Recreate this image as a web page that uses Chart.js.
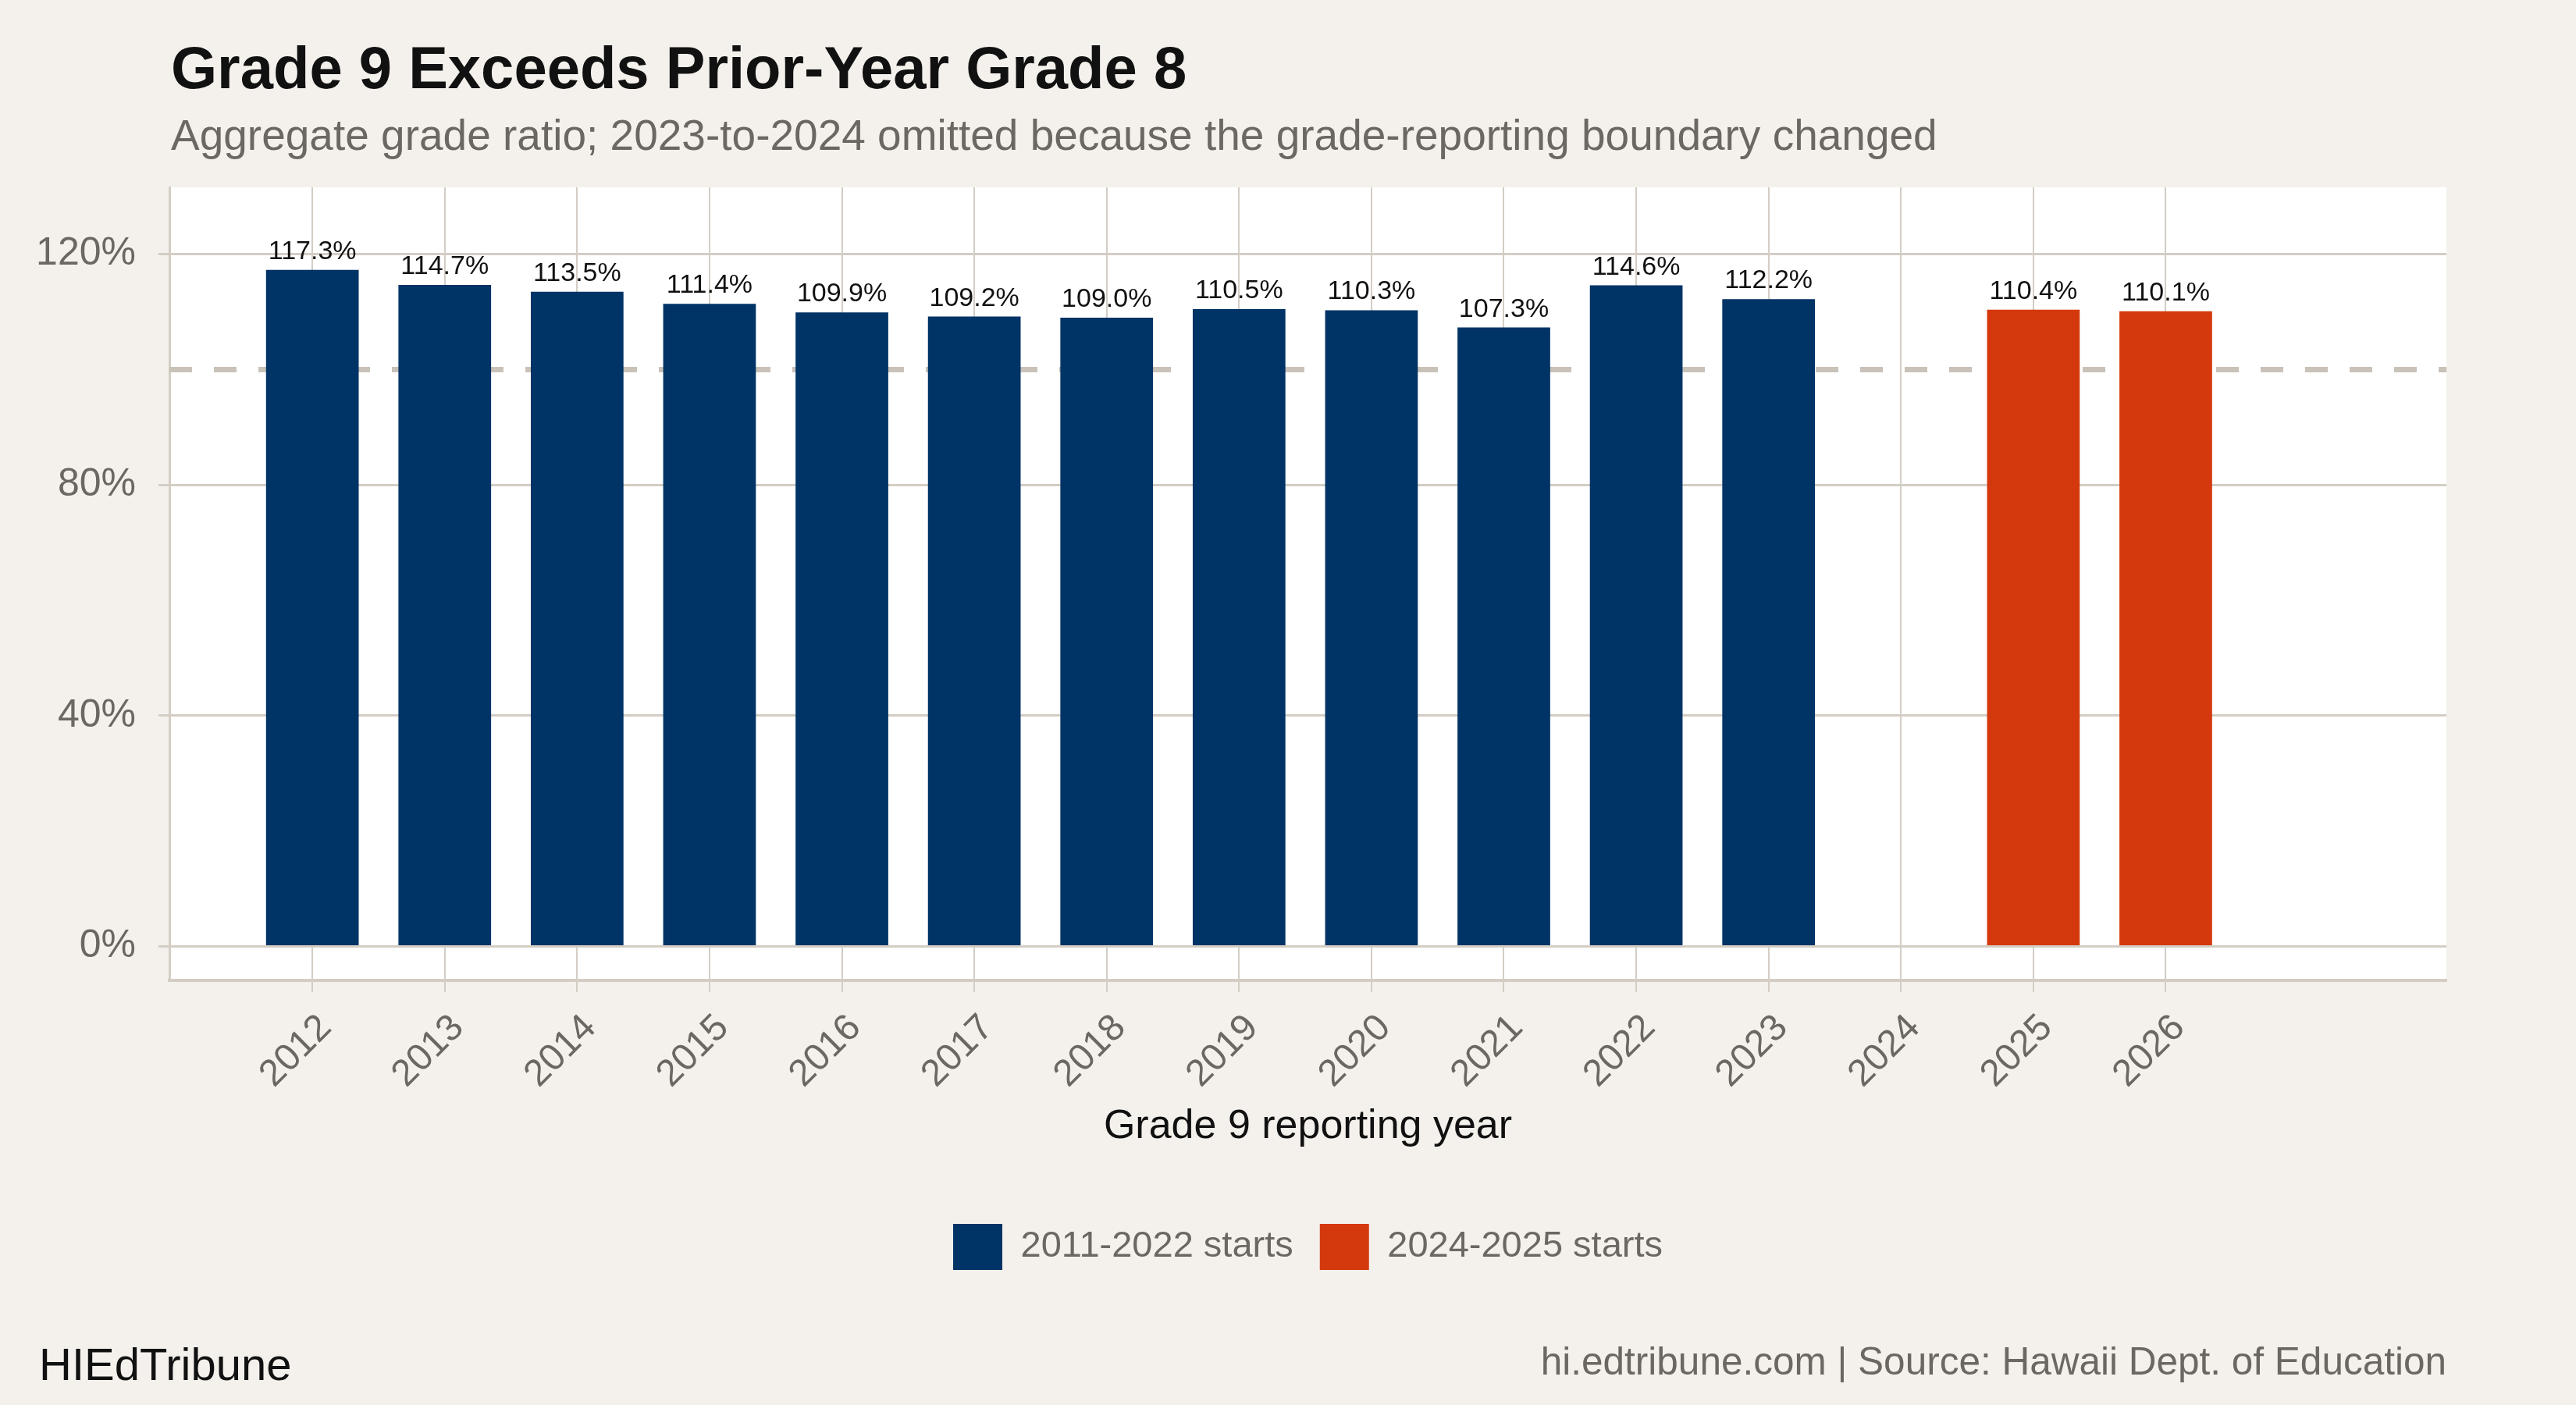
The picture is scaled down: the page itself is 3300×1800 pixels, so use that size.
<!DOCTYPE html>
<html lang="en">
<head>
    <meta charset="UTF-8">
    <title>Grade 9 Exceeds Prior-Year Grade 8</title>
    <style>
        html, body {
            margin: 0;
            padding: 0;
            background-color: #f4f1ec;
        }

        #chart {
            display: block;
            width: 3300px;
            height: 1800px;
        }
    </style>
</head>
<body>
    <canvas id="chart" width="3300" height="1800"></canvas>

    <script src="https://cdn.jsdelivr.net/npm/chart.js@4/dist/chart.umd.min.js"></script>
    <script>
        // tick labels on the x axis (2024 has no bar)
        const years = [2012, 2013, 2014, 2015, 2016, 2017, 2018, 2019, 2020, 2021, 2022, 2023, 2024, 2025, 2026];

        // 2011-2022 starts
        const oldYears = [2012, 2013, 2014, 2015, 2016, 2017, 2018, 2019, 2020, 2021, 2022, 2023];
        const oldRatios = [117.3, 114.7, 113.5, 111.4, 109.9, 109.2, 109.0, 110.5, 110.3, 107.3, 114.6, 112.2];

        // 2024-2025 starts
        const newYears = [2025, 2026];
        const newRatios = [110.4, 110.1];

        const yTicks = [0, 40, 80, 120];
        const refLine = 100;

        const FONT = '"Liberation Sans", Arial, Helvetica, sans-serif';
        const GRID = '#d3cdc4';
        const GRAY = '#6b6863';

        Chart.defaults.font.family = FONT;

        const toPoints = (xs, ys) => xs.map((x, i) => ({ x: x, y: ys[i] }));

        // page background, white panel, titles and footer
        const frame = {
            id: 'frame',
            beforeDraw(chart) {
                const { ctx, chartArea: a } = chart;
                ctx.save();
                ctx.fillStyle = '#f4f1ec';
                ctx.fillRect(0, 0, chart.width, chart.height);
                ctx.fillStyle = '#ffffff';
                ctx.fillRect(a.left, a.top, a.right - a.left, a.bottom - a.top);
                ctx.restore();
            },
            afterDraw(chart) {
                const ctx = chart.ctx;
                ctx.save();
                ctx.textBaseline = 'alphabetic';
                ctx.textAlign = 'left';
                ctx.fillStyle = '#111111';
                ctx.font = 'bold 76px ' + FONT;
                ctx.fillText('Grade 9 Exceeds Prior-Year Grade 8', 219, 113);

                ctx.fillStyle = GRAY;
                ctx.font = '55px ' + FONT;
                ctx.fillText('Aggregate grade ratio; 2023-to-2024 omitted because the grade-reporting boundary changed', 219, 192);

                ctx.fillStyle = '#111111';
                ctx.font = '58px ' + FONT;
                ctx.fillText('HIEdTribune', 50, 1768);

                ctx.fillStyle = GRAY;
                ctx.font = '49.5px ' + FONT;
                ctx.textAlign = 'right';
                ctx.fillText('hi.edtribune.com | Source: Hawaii Dept. of Education', 3134, 1761);
                ctx.restore();
            }
        };

        // dashed 100% line, under the bars
        const refLinePlugin = {
            id: 'refLine',
            beforeDatasetsDraw(chart) {
                const { ctx, chartArea: a, scales } = chart;
                const y = scales.y.getPixelForValue(refLine);
                ctx.save();
                ctx.strokeStyle = '#c9c2b8';
                ctx.lineWidth = 7;
                ctx.setLineDash([29, 28]);
                ctx.beginPath();
                ctx.moveTo(a.left, y);
                ctx.lineTo(a.right, y);
                ctx.stroke();
                ctx.restore();
            }
        };

        // value labels above bars
        const barLabels = {
            id: 'barLabels',
            afterDatasetsDraw(chart) {
                const ctx = chart.ctx;
                ctx.save();
                ctx.fillStyle = '#111111';
                ctx.font = '34px ' + FONT;
                ctx.textAlign = 'center';
                ctx.textBaseline = 'alphabetic';
                chart.data.datasets.forEach((ds, di) => {
                    chart.getDatasetMeta(di).data.forEach((bar, i) => {
                        ctx.fillText(ds.data[i].y.toFixed(1) + '%', bar.x, bar.y - 14);
                    });
                });
                ctx.restore();
            }
        };

        new Chart(document.getElementById('chart'), {
            type: 'bar',
            data: {
                datasets: [
                    {
                        label: '2011-2022 starts',
                        data: toPoints(oldYears, oldRatios),
                        backgroundColor: '#003366',
                        borderWidth: 0
                    },
                    {
                        label: '2024-2025 starts',
                        data: toPoints(newYears, newRatios),
                        backgroundColor: '#d4390d',
                        borderWidth: 0
                    }
                ]
            },
            options: {
                responsive: false,
                devicePixelRatio: 1,
                animation: false,
                grouped: false,
                barPercentage: 0.7,
                categoryPercentage: 1.0,
                layout: {
                    padding: { top: 240, right: 166, bottom: 163, left: 0 }
                },
                plugins: {
                    title: { display: false },
                    tooltip: { enabled: false },
                    legend: {
                        position: 'bottom',
                        fullSize: false,
                        labels: {
                            boxWidth: 63,
                            boxHeight: 59,
                            padding: 34,
                            color: GRAY,
                            font: { size: 47 }
                        }
                    }
                },
                scales: {
                    x: {
                        type: 'linear',
                        min: 2010.92,
                        max: 2028.12,
                        offset: false,
                        afterBuildTicks: axis => {
                            axis.ticks = years.map(v => ({ value: v }));
                        },
                        afterFit: axis => {
                            axis.height = 278;
                        },
                        grid: {
                            offset: false,
                            color: GRID,
                            lineWidth: 2,
                            tickLength: 15,
                            drawTicks: true
                        },
                        border: { color: GRID, width: 4 },
                        ticks: {
                            autoSkip: false,
                            minRotation: 45,
                            maxRotation: 45,
                            padding: 18,
                            labelOffset: 17,
                            color: GRAY,
                            font: { size: 48 },
                            callback: v => String(v)
                        },
                        title: {
                            display: true,
                            text: 'Grade 9 reporting year',
                            color: '#111111',
                            font: { size: 52 },
                            padding: { top: 0, bottom: 59 }
                        }
                    },
                    y: {
                        min: -5.9,
                        max: 131.6,
                        afterBuildTicks: axis => {
                            axis.ticks = yTicks.map(v => ({ value: v }));
                        },
                        afterFit: axis => {
                            axis.width = 217;
                        },
                        grid: {
                            color: GRID,
                            lineWidth: 3,
                            tickLength: 14
                        },
                        border: { color: GRID, width: 3 },
                        ticks: {
                            padding: 29,
                            color: GRAY,
                            font: { size: 50 },
                            callback: v => v + '%'
                        }
                    }
                }
            },
            plugins: [frame, refLinePlugin, barLabels]
        });
    </script>
</body>
</html>
